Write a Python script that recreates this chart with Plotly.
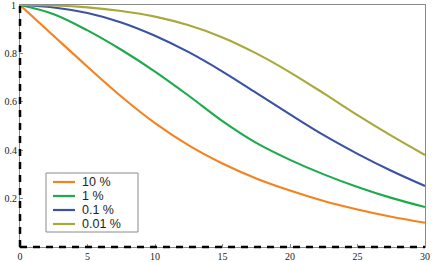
import plotly.graph_objects as go

# ── data ─────────────────────────────────────────────────────────────────────
x_vals = [0, 2.5, 5, 7.5, 10, 12.5, 15, 17.5, 20, 22.5, 25, 27.5, 30]

y_10 = [1.0, 0.872, 0.745, 0.622, 0.512, 0.42, 0.345, 0.283, 0.233, 0.19, 0.155, 0.125, 0.10]
y_1 = [1.0, 0.962, 0.895, 0.815, 0.725, 0.625, 0.52, 0.43, 0.36, 0.30, 0.248, 0.203, 0.165]
y_01 = [1.0, 0.99, 0.967, 0.928, 0.873, 0.805, 0.725, 0.637, 0.548, 0.462, 0.385, 0.315, 0.252]
y_001 = [1.0, 0.998, 0.99, 0.975, 0.952, 0.916, 0.866, 0.80, 0.722, 0.635, 0.545, 0.46, 0.38]

series_names = ['10 %', '1 %', '0.1 %', '0.01 %']
series_vals = [y_10, y_1, y_01, y_001]
colors = ['#F5821F', '#1CAA4B', '#3A52A3', '#A7A93A']

x_ticks = [0, 5, 10, 15, 20, 25, 30]
y_ticks = [0.2, 0.4, 0.6, 0.8, 1.0]
y_tick_text = ['0.2', '0.4', '0.6', '0.8', '1']

# ── layout geometry (pixels) ─────────────────────────────────────────────────
W, H = 436, 262
ML, MR, MT, MB = 20, 11, 5, 15
PW, PH = W - ML - MR, H - MT - MB


def px_x(p):
    return (p - ML) / PW


def px_y(p):
    return (H - MB - p) / PH


tick_font = dict(family='Liberation Serif', size=10, color='#222222')

# ── figure ───────────────────────────────────────────────────────────────────
fig = go.Figure()
for name, ys, c in zip(series_names, series_vals, colors):
    fig.add_trace(go.Scatter(
        x=x_vals, y=ys, name=name, mode='lines',
        line=dict(color=c, width=2.1, shape='spline', smoothing=1.0),
    ))

axis_common = dict(
    showgrid=False, zeroline=False, automargin=False,
    showline=True, linecolor='#8a8a8a', linewidth=1, mirror=True,
    ticks='inside', ticklen=3, tickcolor='#8a8a8a',
    tickfont=tick_font,
)

fig.update_xaxes(range=[0, 30], tickvals=x_ticks, **axis_common)
# top label gets dropped by plotly at the figure edge, so it is placed by hand
fig.update_yaxes(range=[0, 1], tickvals=y_ticks[:-1], ticktext=y_tick_text[:-1],
                 **axis_common)
fig.add_annotation(xref='paper', yref='y', x=px_x(18), y=y_ticks[-1],
                   text=y_tick_text[-1], showarrow=False,
                   xanchor='right', yanchor='middle', font=tick_font)

# dashed black left / bottom axes
dash_line = dict(color='black', width=2.5, dash='7px,6px')
fig.add_shape(type='line', xref='paper', yref='paper', x0=0, x1=1, y0=0, y1=0,
              line=dash_line, layer='above')
fig.add_shape(type='line', xref='paper', yref='paper', x0=0, x1=0, y0=0, y1=1,
              line=dash_line, layer='above')

# hand-drawn legend box
fig.add_shape(type='rect', xref='paper', yref='paper',
              x0=px_x(46), x1=px_x(138), y0=px_y(232), y1=px_y(173),
              line=dict(color='#8a8a8a', width=1), fillcolor='white', layer='above')
rows = [182, 196, 210, 224]
for name, c, ry in zip(series_names, colors, rows):
    fig.add_shape(type='line', xref='paper', yref='paper',
                  x0=px_x(53), x1=px_x(75), y0=px_y(ry), y1=px_y(ry),
                  line=dict(color=c, width=2.2), layer='above')
    fig.add_annotation(xref='paper', yref='paper', x=px_x(80), y=px_y(ry),
                       text=name, showarrow=False, xanchor='left', yanchor='middle',
                       font=dict(family='Liberation Sans', size=12.5, color='#222222'))

fig.update_layout(
    width=W, height=H,
    margin=dict(l=ML, r=MR, t=MT, b=MB),
    plot_bgcolor='white', paper_bgcolor='white',
    showlegend=False,
)

# drop the browser's default 8px body margin so the figure sits at (0, 0)
fig.write_html('out.html', config={'displayModeBar': False},
               post_script="document.body.style.margin='0';")
